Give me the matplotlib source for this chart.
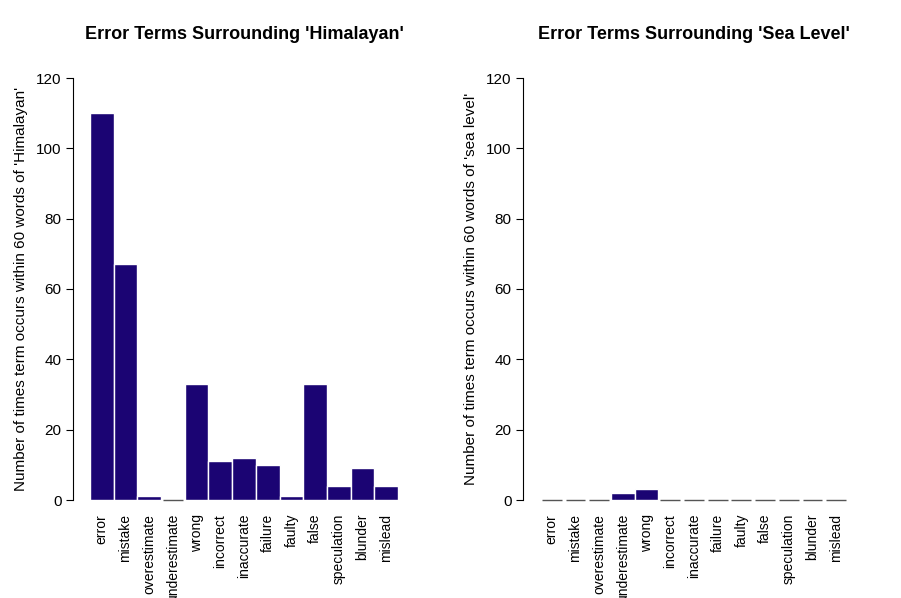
import matplotlib
matplotlib.use("Agg")
import matplotlib.pyplot as plt
plt.rcParams["font.family"] = "Liberation Sans"

terms = ["error","mistake","overestimate","underestimate","wrong","incorrect","inaccurate",
         "failure","faulty","false","speculation","blunder","mislead"]
himalayan = [110,67,1,0,33,11,12,10,1,33,4,9,4]
sealevel = [0,0,0,2,3,0,0,0,0,0,0,0,0]
yticks = [0,20,40,60,80,100,120]
color = "#1b0473"

fig = plt.figure(figsize=(9.01,5.98), dpi=100)
panels = [(90, himalayan, "Error Terms Surrounding 'Himalayan'", "Number of times term occurs within 60 words of 'Himalayan'"),
          (540, sealevel, "Error Terms Surrounding 'Sea Level'", "Number of times term occurs within 60 words of 'sea level'")]
for x0, vals, title, ylab in panels:
    ax = fig.add_axes([x0/901, 98/598, 308/901, 422/598])
    ax.bar(range(len(terms)), vals, width=1.0, color=color, edgecolor="white", linewidth=1)
    for i, v in enumerate(vals):
        if v == 0:
            ax.hlines(0, i-0.42, i+0.42, color="#555555", linewidth=1, clip_on=False)
    ax.set_xlim(-0.5, len(terms)-0.5)
    ax.set_ylim(0, 120)
    for s in ["top","right","bottom"]:
        ax.spines[s].set_visible(False)
    ax.spines["left"].set_position(("outward", 12))
    ax.set_yticks(yticks)
    ax.tick_params(axis="y", labelsize=11, length=5)
    ax.set_xticks(range(len(terms)))
    ax.set_xticklabels(terms, rotation=90, fontsize=10)
    ax.tick_params(axis="x", length=0, pad=10)
    ax.set_ylabel(ylab, fontsize=11, labelpad=6)
    ax.set_title(title, fontsize=13, fontweight="bold", pad=28)
fig.savefig("out.png", dpi=100)
